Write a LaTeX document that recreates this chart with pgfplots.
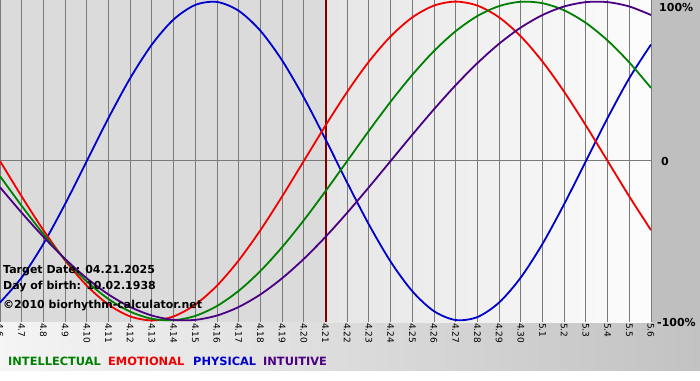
\documentclass[border=0pt]{standalone}
\usepackage{fontspec}
\setmainfont{DejaVu Sans}
\usepackage{pgfplots}
\usepackage{pgfplotstable}
\pgfplotsset{compat=1.18}
\usetikzlibrary{calc}
\pgfdeclarelayer{bg}
\pgfsetlayers{bg,main}
\definecolor{cgreen}{HTML}{008000}
\definecolor{cred}{HTML}{F00000}
\definecolor{cblue}{HTML}{0000CC}
\definecolor{cpurple}{HTML}{4B0082}
\definecolor{gridc}{HTML}{7A7A7A}
\definecolor{target}{HTML}{800000}
\pgfplotstableread{
d phys emo intel intu
0 -0.8879 0 -0.0951 -0.1646
1 -0.7308 -0.2225 -0.2817 -0.3247
2 -0.5196 -0.4339 -0.4582 -0.4759
3 -0.2698 -0.6235 -0.6182 -0.6142
4 0 -0.7818 -0.7557 -0.7357
5 0.2698 -0.9010 -0.8660 -0.8372
6 0.5196 -0.9749 -0.9450 -0.9158
7 0.7308 -1 -0.9898 -0.9694
8 0.8879 -0.9749 -0.9989 -0.9966
9 0.9791 -0.9010 -0.9718 -0.9966
10 0.9977 -0.7818 -0.9096 -0.9694
11 0.9423 -0.6235 -0.8146 -0.9158
12 0.8170 -0.4339 -0.6901 -0.8372
13 0.6311 -0.2225 -0.5406 -0.7357
14 0.3984 0 -0.3717 -0.6142
15 0.1362 0.2225 -0.1893 -0.4759
16 -0.1362 0.4339 0 -0.3247
17 -0.3984 0.6235 0.1893 -0.1646
18 -0.6311 0.7818 0.3717 0
19 -0.8170 0.9010 0.5406 0.1646
20 -0.9423 0.9749 0.6901 0.3247
21 -0.9977 1 0.8146 0.4759
22 -0.9791 0.9749 0.9096 0.6142
23 -0.8879 0.9010 0.9718 0.7357
24 -0.7308 0.7818 0.9989 0.8372
25 -0.5196 0.6235 0.9898 0.9158
26 -0.2698 0.4339 0.9450 0.9694
27 0 0.2225 0.8660 0.9966
28 0.2698 0 0.7557 0.9966
29 0.5196 -0.2225 0.6182 0.9694
30 0.7308 -0.4339 0.4582 0.9158
}\bio
\begin{document}
\begin{tikzpicture}
\begin{pgfinterruptboundingbox}
\begin{axis}[
  width=651pt, height=322pt, scale only axis,
  xmin=0, xmax=30, ymin=-1.01, ymax=1.01,
  axis line style={draw=none},
  tick style={draw=none},
  xtick={0,1,...,30},
  xticklabels={4.6,4.7,4.8,4.9,4.10,4.11,4.12,4.13,4.14,4.15,4.16,4.17,4.18,4.19,4.20,4.21,4.22,4.23,4.24,4.25,4.26,4.27,4.28,4.29,4.30,5.1,5.2,5.3,5.4,5.5,5.6},
  xticklabel style={rotate=-90, anchor=west, font=\fontsize{9}{9}\selectfont, inner sep=1pt},
  ytick={0}, yticklabels={},
  grid=major,
  major grid style={draw=gridc, line width=1pt},
  clip=true,
]
\coordinate (A) at (rel axis cs:0,0);
\draw[target, line width=2pt] (axis cs:15,-1.01) -- (axis cs:15,1.01);
\addplot[cblue, line width=1.8pt, smooth, no marks] table[x=d,y=phys] {\bio};
\addplot[cred, line width=1.8pt, smooth, no marks] table[x=d,y=emo] {\bio};
\addplot[cgreen, line width=1.8pt, smooth, no marks] table[x=d,y=intel] {\bio};
\addplot[cpurple, line width=1.8pt, smooth, no marks] table[x=d,y=intu] {\bio};
\end{axis}
\end{pgfinterruptboundingbox}
\begin{scope}[shift={(A)}, x=1pt, y=1pt]
\path[use as bounding box] (0,-58) rectangle (700,322);
\begin{pgfonlayer}{bg}
\fill[white] (0,-58) rectangle (700,322);
\shade[left color=white!96!black, right color=white!76!black] (0,-48) rectangle (700,0);
\fill[white!75!black] (651,0) rectangle (700,322);
\fill[white!86!black] (0,0) rectangle (325.5,322);
\shade[left color=white!90!black, right color=white!99!black] (325.5,0) rectangle (651,322);
\end{pgfonlayer}
\begin{scope}[every node/.style={inner sep=0pt, anchor=west, font=\fontsize{11}{11}\selectfont\bfseries}]
\node at (3,51) {Target Date: 04.21.2025};
\node at (3,35) {Day of birth: 10.02.1938};
\node at (3,16) {©2010 biorhythm-calculator.net};
\node at (659,314) {100\%};
\node at (661,161) {0};
\node at (657,0) {-100\%};
\end{scope}
\begin{scope}[every node/.style={inner sep=0pt, anchor=west, font=\fontsize{11.4}{11.4}\selectfont\bfseries}]
\node[text=cgreen] at (8,-39) {INTELLECTUAL};
\node[text=cred] at (108,-39) {EMOTIONAL};
\node[text=cblue] at (193,-39) {PHYSICAL};
\node[text=cpurple] at (263,-39) {INTUITIVE};
\end{scope}
\end{scope}
\end{tikzpicture}
\end{document}
